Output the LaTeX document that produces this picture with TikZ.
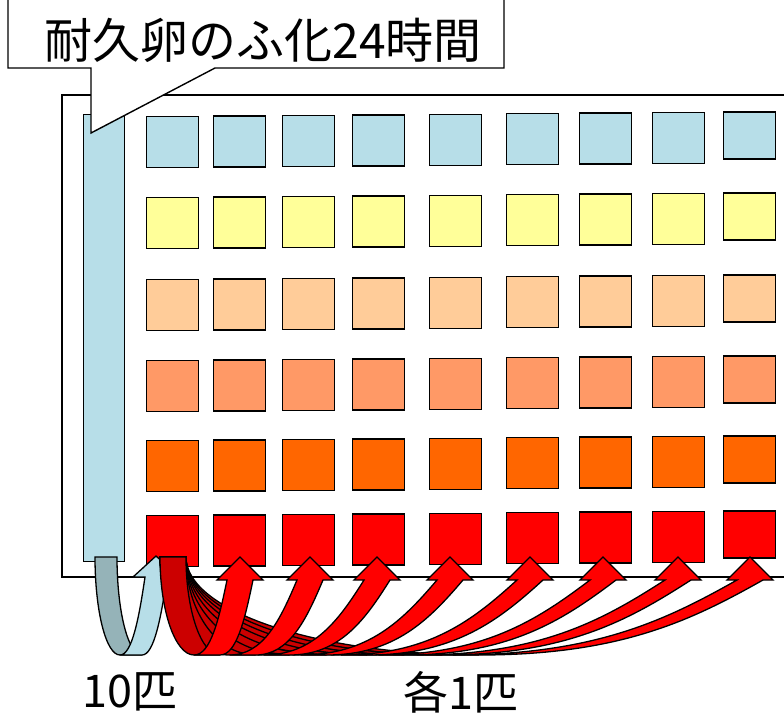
\documentclass[tikz,border=0pt]{standalone}
\usepackage{fontspec}
\newfontfamily\jp{Noto Sans CJK JP}
\definecolor{cBlue}{HTML}{B7DEE8}
\definecolor{cBlueD}{HTML}{95B3B8}
\definecolor{cYel}{HTML}{FFFF99}
\definecolor{cPeach}{HTML}{FFCC99}
\definecolor{cSalmon}{HTML}{FF9966}
\definecolor{cOrange}{HTML}{FF6600}
\definecolor{cRed}{HTML}{FF0000}
\definecolor{cRedD}{HTML}{CC0000}
\begin{document}
\begin{tikzpicture}[x=1pt,y=-1pt,
  sq/.style={draw=black, line width=1.4pt, minimum width=52pt, inner sep=0pt, anchor=north west},
  arr/.style={draw=black, line width=1.3pt, line join=miter},
  frame/.style={draw=black, line width=1.4pt},
  titlefont/.style={font=\jp\fontsize{48}{52}\selectfont, inner sep=0pt},
  lab/.style={font=\jp\fontsize{45}{50}\selectfont, inner sep=0pt}]
\useasboundingbox (0,0) rectangle (784,715);
\clip (0,0) rectangle (784,715);
% frame
\draw[frame] (800,95) -- (62,95) -- (62,577) -- (800,577);
% tall bar
\node[draw=black, fill=cBlue, line width=1.4pt, minimum width=41pt, minimum height=447pt, anchor=north west, inner sep=0pt] (bar) at (83,114) {};
% squares
\foreach \r/\col/\ytop in {1/cBlue/116, 2/cYel/197, 3/cPeach/279, 4/cSalmon/360, 5/cOrange/440, 6/cRed/515} {
  \foreach \c/\xl in {1/146,2/213,3/282,4/352,5/429,6/506,7/579,8/652,9/723} {
    \pgfmathsetmacro\yy{\ytop-0.6*(\c-1)}
    \pgfmathsetmacro\hh{\c==9 ? 47 : 51}
    \node[sq, fill=\col, minimum height={\hh*1pt}] (s\r-\c) at (\xl,\yy) {};
  }
}
% blue arrow (10 animals)
\filldraw[arr, fill=cBlueD] (95,557) .. controls (95,611) and (106,655) .. (120,655) -- (142,655) .. controls (128,655) and (117,611) .. (117,557) -- cycle;
\filldraw[arr, fill=cBlue] (120,655) .. controls (132,655) and (139,618) .. (145,577) -- (133,577) -- (156,556) -- (179,577) -- (167,577) .. controls (161,618) and (154,655) .. (142,655) -- cycle;
% red arrows: back faces
\foreach \T in {750,678,603,530,450,377,310,240} {
  \pgfmathsetmacro\a{(\T-173)/1.97}
  \pgfmathsetmacro\cx{160+\a}
  \pgfmathsetmacro\k{0.552*\a}
  \filldraw[arr, fill=cRedD] (160,557) .. controls (160,611) and ({\cx-\k},655) .. (\cx,655) -- ({\cx+26},655) .. controls ({\cx+26-\k},655) and (186,611) .. (186,557) -- cycle;
}
% red arrows: front faces
\foreach \T in {750,678,603,530,450,377,310,240} {
  \pgfmathsetmacro\a{(\T-173)/1.97}
  \pgfmathsetmacro\cx{160+\a}
  \pgfmathsetmacro\xL{\T-13}
  \pgfmathsetmacro\dx{\xL-\cx}
  \filldraw[arr, fill=cRed] (\cx,655) .. controls ({\cx+0.5*\dx},655) and ({\xL-0.25*\dx},620) .. (\xL,580) -- ({\T-23},580) -- (\T,557) -- ({\T+23},580) -- ({\xL+26},580) .. controls ({\xL+26-0.25*\dx},620) and ({\cx+26+0.5*\dx},655) .. ({\cx+26},655) -- cycle;
}
% callout
\filldraw[frame, fill=white] (8,-5) -- (8,68) -- (91,68) -- (91,133) -- (215,68) -- (504,68) -- (504,-5);
\node[titlefont] (title) at (263,40) {耐久卵のふ化24時間};
% labels
\node[lab] (n10) at (130,692) {10匹};
\node[lab] (each) at (461,692) {各1匹};
\end{tikzpicture}
\end{document}
